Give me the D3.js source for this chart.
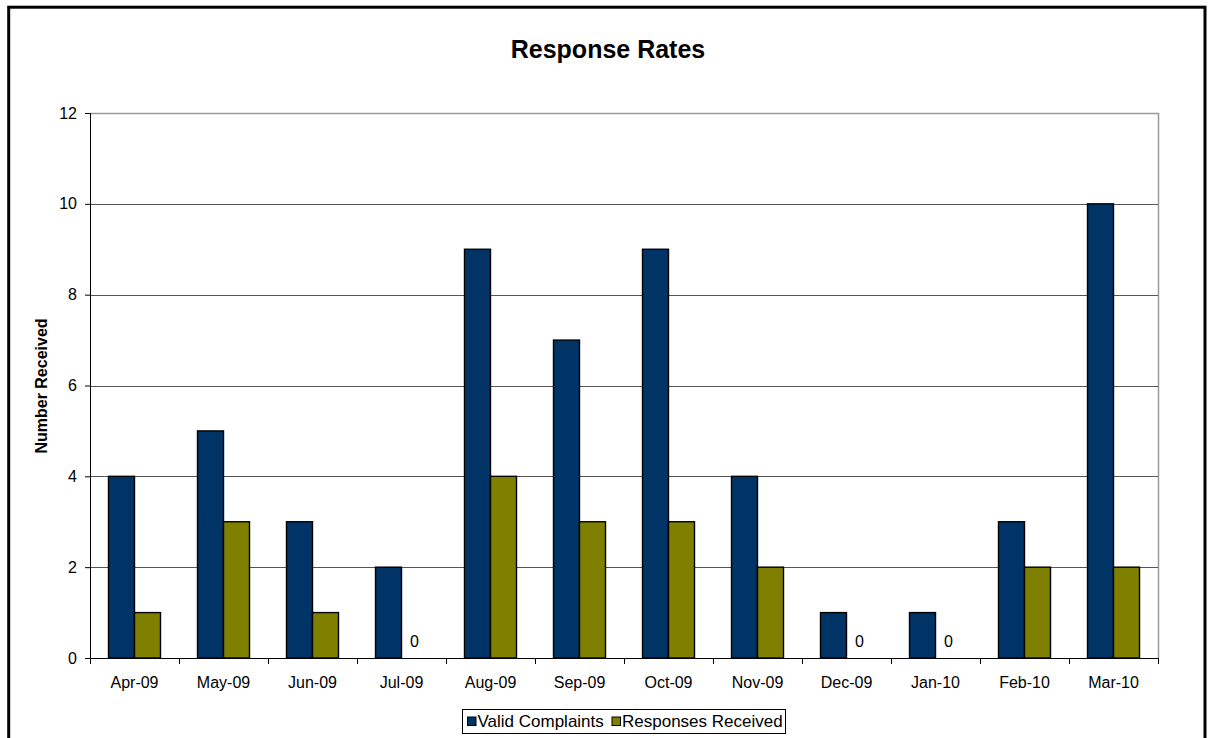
<!DOCTYPE html>
<html>
<head>
<meta charset="utf-8">
<script src="https://cdn.jsdelivr.net/npm/d3@7"></script>
<style>
  body { margin: 0; background: #fff; }
  svg { font-family: "Liberation Sans", Arial, sans-serif; }
</style>
</head>
<body>
<div id="chart"></div>
<script>
// data
var months = ['Apr-09', 'May-09', 'Jun-09', 'Jul-09', 'Aug-09', 'Sep-09',
              'Oct-09', 'Nov-09', 'Dec-09', 'Jan-10', 'Feb-10', 'Mar-10'];
var validComplaints = [4, 5, 3, 2, 9, 7, 9, 4, 1, 1, 3, 10];
var responsesReceived = [1, 3, 1, 0, 4, 3, 3, 2, 0, 0, 2, 2];
var seriesNames = ['Valid Complaints', 'Responses Received'];
var seriesColors = ['#003366', '#808000'];
var yTicks = [0, 2, 4, 6, 8, 10, 12];

var svgWidth = 1209, svgHeight = 738;
var plotLeft = 90, plotTop = 113, plotRight = 1158, plotBottom = 658;

var svg = d3.select('#chart')
    .append('svg')
    .attr('width', svgWidth)
    .attr('height', svgHeight)

// outer frame
svg.append('rect')
    .attr('x', 8.7).attr('y', 7.2)
    .attr('width', 1196.3).attr('height', 740)
    .attr('fill', 'none')
    .attr('stroke', '#000')
    .attr('stroke-width', 3)

svg.append('text')
    .attr('x', 608).attr('y', 58)
    .attr('text-anchor', 'middle')
    .style('font-size', '25px')
    .style('font-weight', 'bold')
    .text('Response Rates')

var x = d3.scaleBand().domain(months).range([plotLeft, plotRight]);
var x1 = d3.scaleBand().domain([0, 1]).range([0, 52]);
var y = d3.scaleLinear().domain([0, 12]).range([plotBottom, plotTop]);

// plot area frame (top/right gray)
svg.append('path')
    .attr('d', 'M' + plotLeft + ',' + (plotTop + 0.5) + 'H' + (plotRight + 0.5) + 'V' + plotBottom)
    .attr('fill', 'none')
    .attr('stroke', '#999')
    .attr('stroke-width', 1.5)

// gridlines
svg.selectAll('line.grid')
    .data(yTicks.slice(1, -1))
    .enter()
    .append('line')
    .attr('class', 'grid')
    .attr('x1', plotLeft).attr('x2', plotRight)
    .attr('y1', function(d) { return Math.round(y(d)) + 0.5 })
    .attr('y2', function(d) { return Math.round(y(d)) + 0.5 })
    .attr('stroke', '#555')

// y axis
var yAxis = svg.append('g')
    .attr('transform', 'translate(' + plotLeft + ',0)')
    .call(d3.axisLeft(y).tickValues(yTicks).tickSize(5).tickPadding(8))
yAxis.select('.domain').attr('stroke', '#000')
yAxis.selectAll('text').style('font-size', '16px').attr('fill', '#000')
yAxis.selectAll('line').attr('stroke', '#000')

// x axis with ticks at category boundaries
var xAxis = svg.append('g')
    .attr('transform', 'translate(0,' + plotBottom + ')')
    .call(d3.axisBottom(x).tickSize(0).tickPadding(18.5))
xAxis.select('.domain').attr('stroke', '#000')
xAxis.selectAll('text').style('font-size', '16px').attr('fill', '#000')
xAxis.selectAll('line.bound')
    .data(d3.range(months.length + 1))
    .enter()
    .append('line')
    .attr('class', 'bound')
    .attr('x1', function(d) { return Math.round(plotLeft + d * x.step()) + 0.5 })
    .attr('x2', function(d) { return Math.round(plotLeft + d * x.step()) + 0.5 })
    .attr('y1', 0).attr('y2', 6)
    .attr('stroke', '#000')

// bars
var series = [validComplaints, responsesReceived];
series.forEach(function(values, s) {
    svg.selectAll('rect.s' + s)
        .data(values)
        .enter()
        .append('rect')
        .attr('class', 's' + s)
        .attr('x', function(d, i) { return x(months[i]) + x.bandwidth() / 2 - 26 + x1(s) })
        .attr('y', function(d) { return y(d) })
        .attr('width', x1.bandwidth())
        .attr('height', function(d) { return plotBottom - y(d) })
        .attr('fill', seriesColors[s])
        .attr('stroke', '#000')
        .attr('stroke-width', 1.4)
        .style('display', function(d) { return d === 0 ? 'none' : null })
})

// "0" labels where no responses
responsesReceived.forEach(function(d, i) {
    if (d === 0) {
        svg.append('text')
            .attr('x', x(months[i]) + x.bandwidth() / 2 + x1(1) - 26 + x1.bandwidth() / 2)
            .attr('y', y(d) - 11.5)
            .attr('text-anchor', 'middle')
            .style('font-size', '16px')
            .text(d)
    }
})

// y label
svg.append('text')
    .attr('transform', 'translate(47,386) rotate(-90)')
    .attr('text-anchor', 'middle')
    .style('font-size', '16px')
    .style('font-weight', 'bold')
    .text('Number Received')

// legend
var legend = svg.append('g').attr('transform', 'translate(462,709)')
legend.append('rect')
    .attr('x', 0.5).attr('y', 0.5)
    .attr('width', 323).attr('height', 24)
    .attr('fill', '#fff')
    .attr('stroke', '#000')
var legendX = [5.5, 150];
seriesNames.forEach(function(name, i) {
    legend.append('rect')
        .attr('x', legendX[i]).attr('y', 8)
        .attr('width', 8.5).attr('height', 8.5)
        .attr('fill', seriesColors[i])
        .attr('stroke', '#000')
    legend.append('text')
        .attr('x', legendX[i] + 10).attr('y', 18)
        .style('font-size', '17px')
        .text(name)
})
</script>
</body>
</html>
